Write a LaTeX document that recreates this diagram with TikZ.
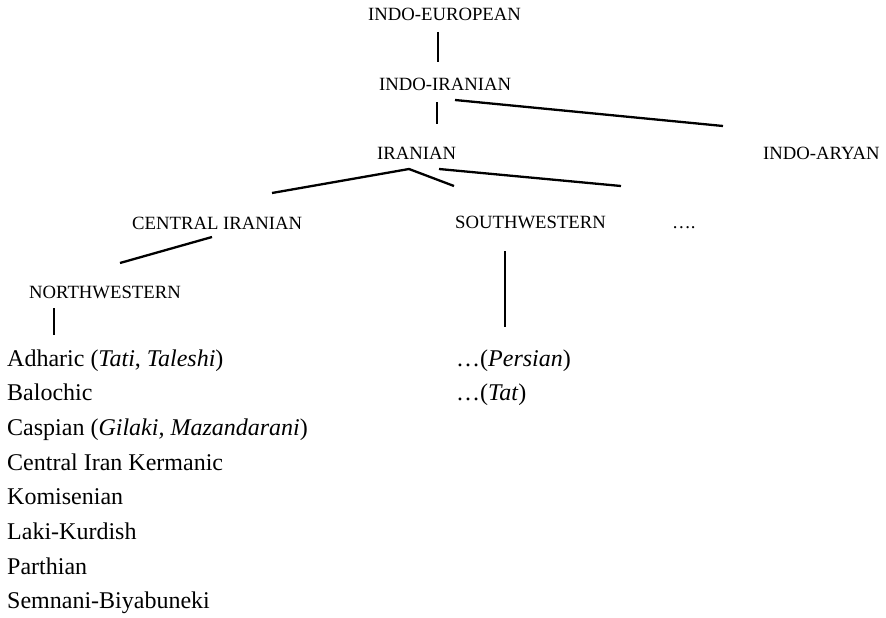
\documentclass[tikz,border=0pt]{standalone}
\usepackage{fontspec}
\setmainfont{Liberation Serif}
\begin{document}
\begin{tikzpicture}[x=1pt,y=-1pt,
  capslabel/.style={anchor=base west,inner sep=0pt,font=\fontsize{18.7}{20}\selectfont},
  listitem/.style={anchor=base west,inner sep=0pt,font=\fontsize{24}{26}\selectfont},
  branch/.style={line width=2.3pt,black}]
\useasboundingbox (0,0) rectangle (886,618);
% labels
\node[capslabel] (ie) at (368,21) {INDO-EUROPEAN};
\node[capslabel] (ii) at (379,90) {INDO-IRANIAN};
\node[capslabel] (ir) at (377,159) {IRANIAN};
\node[capslabel] (ia) at (763,159) {INDO-ARYAN};
\node[capslabel] (ci) at (132,229) {CENTRAL IRANIAN};
\node[capslabel] (sw) at (455,228) {SOUTHWESTERN};
\node[capslabel] (dots) at (672,228) {….};
\node[capslabel] (nw) at (29,298) {NORTHWESTERN};
% lists
\node[listitem] (l1) at (7,366) {Adharic (\textit{Tati}, \textit{Taleshi})};
\node[listitem] (l2) at (7,400.7) {Balochic};
\node[listitem] (l3) at (7,435.4) {Caspian (\textit{Gilaki, Mazandarani})};
\node[listitem] (l4) at (7,470.1) {Central Iran Kermanic};
\node[listitem] (l5) at (7,504.8) {Komisenian};
\node[listitem] (l6) at (7,539.5) {Laki-Kurdish};
\node[listitem] (l7) at (7,574.2) {Parthian};
\node[listitem] (l8) at (7,608.9) {Semnani-Biyabuneki};
\node[listitem] (r1) at (456,366) {…(\textit{Persian})};
\node[listitem] (r2) at (456,400.7) {…(\textit{Tat})};
% connector end points
\coordinate (ie-b) at (438,32);
\coordinate (ii-t) at (438,62);
\coordinate (ii-b) at (437,102);
\coordinate (ir-t) at (437,124);
\coordinate (ii-r) at (455,100);
\coordinate (ia-t) at (723,126);
\coordinate (ir-b) at (409,169);
\coordinate (ir-br) at (439,169);
\coordinate (ci-t) at (272,193);
\coordinate (sw-t) at (454,186);
\coordinate (dots-t) at (621,186);
\coordinate (ci-b) at (212,237);
\coordinate (nw-t) at (120,263);
\coordinate (nw-b) at (54,308);
\coordinate (l1-t) at (54,335);
\coordinate (sw-b) at (505,251);
\coordinate (r1-t) at (505,327);
% connectors
\draw[branch] (ie-b) -- (ii-t);
\draw[branch] (ii-b) -- (ir-t);
\draw[branch] (ii-r) -- (ia-t);
\draw[branch] (ci-t) -- (ir-b) -- (sw-t);
\draw[branch] (ir-br) -- (dots-t);
\draw[branch] (ci-b) -- (nw-t);
\draw[branch] (nw-b) -- (l1-t);
\draw[branch] (sw-b) -- (r1-t);
\end{tikzpicture}
\end{document}
